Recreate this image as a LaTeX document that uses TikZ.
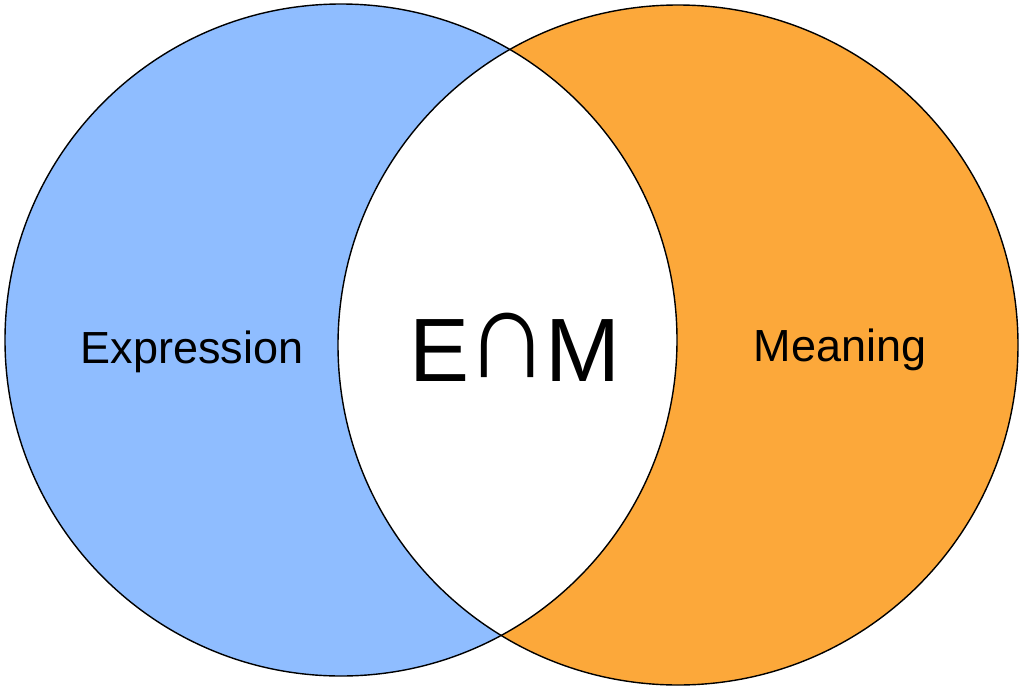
\documentclass[tikz,border=0pt]{standalone}
\usepackage{fontspec}
\setmainfont{Liberation Sans}
\definecolor{exprblue}{RGB}{143,189,255}
\definecolor{meanorange}{RGB}{252,168,58}
\newcommand{\myintersect}{\raisebox{4pt}{\scalebox{1.3}[1.42]{∩}}}
\begin{document}
\begin{tikzpicture}[x=1pt,y=-1pt,
  outline/.style={draw=black,line width=1.4pt},
  lbl/.style={inner sep=0pt,anchor=base,font=\fontsize{45}{54}\selectfont},
  biglbl/.style={inner sep=0pt,anchor=base,font=\fontsize{90}{110}\selectfont}]
\useasboundingbox (0,0) rectangle (1023,691);
\coordinate (cl) at (341,340);
\coordinate (cr) at (678,345);
\fill[exprblue] (cl) circle[radius=336];
\fill[meanorange] (cr) circle[radius=340];
\begin{scope}
  \clip (cl) circle[radius=336];
  \fill[white] (cr) circle[radius=340];
\end{scope}
\draw[outline] (cl) circle[radius=336];
\draw[outline] (cr) circle[radius=340];
\node[lbl] (expr) at (192,363) {Expression};
\node[lbl] (mean) at (840,361) {Meaning};
\node[biglbl] (inter) at (515,381) {E\kern-4pt\myintersect\kern-5pt M};
\end{tikzpicture}
\end{document}
